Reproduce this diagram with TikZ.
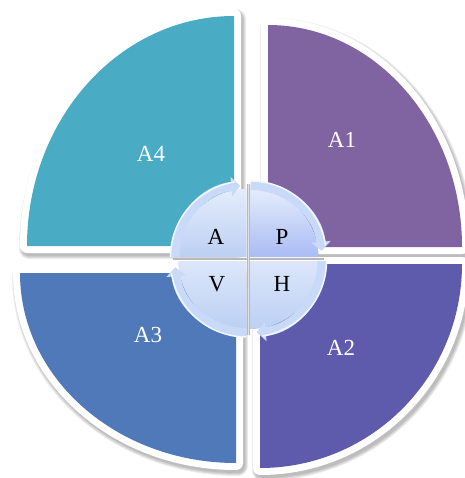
\documentclass[tikz,border=0pt]{standalone}
\usepackage{fontspec}
\setmainfont{Liberation Serif}
\usetikzlibrary{arrows.meta}
\definecolor{cAone}{HTML}{8063A1}
\definecolor{cAtwo}{HTML}{5E5AAC}
\definecolor{cAthree}{HTML}{4F79B9}
\definecolor{cAfour}{HTML}{4AABC4}
\definecolor{ringc}{HTML}{C9DAF8}
\definecolor{ringedge}{HTML}{F2F6FE}
\definecolor{intop}{HTML}{E4ECFC}
\definecolor{inbot}{HTML}{BCD0F3}
\begin{document}
\begin{tikzpicture}[x=1pt,y=1pt,
  shadowline/.style={draw=black,draw opacity=.07,line width=#1,line join=round},
  whiteline/.style={draw=white,line width=14,line join=round},
  biglabel/.style={text=white,font=\fontsize{23}{27}\selectfont,inner sep=0pt},
  smalllabel/.style={text=black,font=\fontsize{23}{27}\selectfont,inner sep=0pt},
  ringarrow/.style={draw=ringc,line width=9,-{Triangle[width=19pt,length=9pt]}},
  ringrim/.style={draw=ringedge,line width=1.5}
]
\useasboundingbox (0,0) rectangle (464,-478);
\fill[white] (0,0) rectangle (464,-478);

% ---------- outer quadrants ----------
% A4 top-left
\def\pathAfour{(234,-246) -- (27,-246) arc[start angle=180,end angle=90,x radius=207,y radius=230] -- cycle}
% A1 top-right
\def\pathAone{(268,-247) -- (268,-25) arc[start angle=90,end angle=0,x radius=194,y radius=222] -- cycle}
% A2 bottom-right
\def\pathAtwo{(260,-264) -- (462,-264) arc[start angle=0,end angle=-90,x radius=202,y radius=204] -- cycle}
% A3 bottom-left
\def\pathAthree{(236,-273) -- (236,-463) arc[start angle=270,end angle=180,x radius=216,y radius=190] -- cycle}

\foreach \p in {\pathAfour,\pathAone,\pathAtwo,\pathAthree}{
  \begin{scope}[shift={(2,-3)}]
    \foreach \w in {20,18,16,14}{\path[shadowline=\w] \p;}
  \end{scope}
}
\foreach \p in {\pathAfour,\pathAone,\pathAtwo,\pathAthree}{
  \path[whiteline] \p;
}
\fill[cAfour] \pathAfour;
\fill[cAone] \pathAone;
\fill[cAtwo] \pathAtwo;
\fill[cAthree] \pathAthree;

\node[biglabel] (a4) at (151,-154) {A4};
\node[biglabel] (a1) at (342,-140) {A1};
\node[biglabel] (a2) at (341,-348) {A2};
\node[biglabel] (a3) at (148,-335) {A3};

% ---------- centre cycle ----------
% inner quarter discs
\shade[top color=intop,bottom color=inbot] (246.5,-257) -- ++(-68,0) arc[start angle=180,end angle=90,radius=68] -- cycle;
\shade[top color=intop,bottom color=inbot!90!blue] (250.5,-257) -- ++(0,68) arc[start angle=90,end angle=0,radius=68] -- cycle;
\shade[top color=intop!80!inbot,bottom color=inbot] (250.5,-261) -- ++(68,0) arc[start angle=0,end angle=-90,radius=68] -- cycle;
\shade[top color=intop!80!inbot,bottom color=inbot] (246.5,-261) -- ++(0,-68) arc[start angle=-90,end angle=-180,radius=68] -- cycle;
% gaps of the cross
\draw[black!28,line width=2.5] (248.5,-184) -- (248.5,-335);
\draw[black!28,line width=2.5] (173,-259) -- (324,-259);
\draw[white,opacity=.6,line width=1] (248.5,-184) -- (248.5,-335);

% ring arrows (clockwise)
\draw[ringarrow] (246.5,-257) ++(180:71.5) arc[start angle=180,end angle=95,radius=71.5];
\draw[ringarrow] (250.5,-257) ++(90:71.5) arc[start angle=90,end angle=5,radius=71.5];
\draw[ringarrow] (250.5,-261) ++(0:71.5) arc[start angle=0,end angle=-85,radius=71.5];
\draw[ringarrow] (246.5,-261) ++(-90:71.5) arc[start angle=-90,end angle=-175,radius=71.5];
% rims
\draw[ringrim] (246.5,-257) ++(180:76) arc[start angle=180,end angle=99,radius=76];
\draw[ringrim] (250.5,-257) ++(90:76) arc[start angle=90,end angle=9,radius=76];
\draw[ringrim] (250.5,-261) ++(0:76) arc[start angle=0,end angle=-81,radius=76];
\draw[ringrim] (246.5,-261) ++(-90:76) arc[start angle=-90,end angle=-171,radius=76];

\node[smalllabel] (lA) at (216,-237) {A};
\node[smalllabel] (lP) at (282,-237) {P};
\node[smalllabel] (lV) at (217,-284) {V};
\node[smalllabel] (lH) at (282,-284) {H};
\end{tikzpicture}
\end{document}
